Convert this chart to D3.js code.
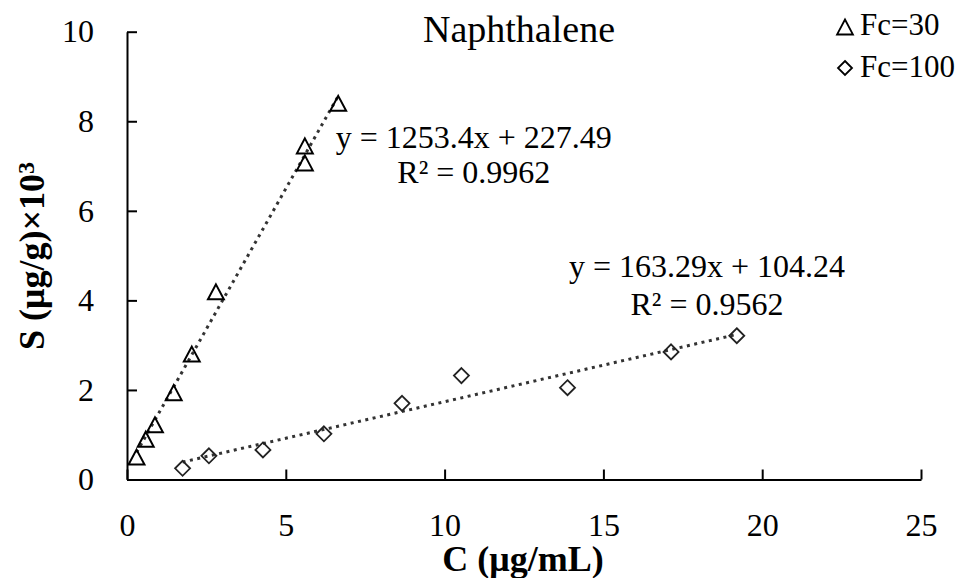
<!DOCTYPE html>
<html>
<head>
<meta charset="utf-8">
<script src="https://cdn.jsdelivr.net/npm/d3@7/dist/d3.min.js"></script>
<style>
	body { margin: 0; background: #fff; }
	text { font-family: "Liberation Serif", "Times New Roman", serif; fill: #000; }
	.axis path, .axis line { stroke: #000; stroke-width: 2; }
</style>
</head>
<body>
<div id="chart"></div>
<script>
////////////////////////////////////////////////////////////
//////////////////////// Data //////////////////////////////
////////////////////////////////////////////////////////////

//Fc=30 points (C in ug/mL, S in ug/g x 10^3)
var fc30C = [0.30, 0.59, 0.88, 1.47, 2.04, 2.80, 5.60, 5.60, 6.65],
	fc30S = [0.50, 0.90, 1.22, 1.94, 2.80, 4.19, 7.45, 7.07, 8.40];

//Fc=100 points
var fc100C = [1.75, 2.58, 4.28, 6.20, 8.66, 10.53, 13.87, 17.13, 19.20],
	fc100S = [0.25, 0.53, 0.66, 1.02, 1.70, 2.32, 2.05, 2.85, 3.21];

//Trendlines (in plotted units, S/1000)
var fitSlope = [1.2534, 0.16329],
	fitIntercept = [0.22749, 0.10424],
	eqLabels = ["y = 1253.4x + 227.49", "y = 163.29x + 104.24"],
	r2Labels = ["R\u00b2 = 0.9962", "R\u00b2 = 0.9562"];

var seriesNames = ["Fc=30", "Fc=100"],
	xTicks = [0, 5, 10, 15, 20, 25],
	yTicks = [0, 2, 4, 6, 8, 10];

////////////////////////////////////////////////////////////
//////////////////////// Set-up ////////////////////////////
////////////////////////////////////////////////////////////

var width = 962,
	height = 578,
	serif = "'Liberation Serif', 'Times New Roman', serif";

var x = d3.scaleLinear().domain([0, 25]).range([127, 921]);
var y = d3.scaleLinear().domain([0, 10]).range([479.5, 31.7]);

var svg = d3.select("#chart").append("svg")
	.attr("width", width)
	.attr("height", height);

//marker shapes, centred on their box
function trianglePath(s) {
	return "M0," + (-s*0.5) + "L" + (s*0.53) + "," + (s*0.5) + "L" + (-s*0.53) + "," + (s*0.5) + "Z";
}
function diamondPath(s) {
	return "M0," + (-s*0.5) + "L" + (s*0.5) + ",0L0," + (s*0.5) + "L" + (-s*0.5) + ",0Z";
}

////////////////////////////////////////////////////////////
//////////////////////// Axes //////////////////////////////
////////////////////////////////////////////////////////////

svg.append("g")
	.attr("class", "x axis")
	.attr("transform", "translate(0," + y(0) + ")")
	.call(d3.axisBottom(x).tickValues(xTicks).tickSizeInner(-10).tickSizeOuter(0).tickPadding(34));

svg.append("g")
	.attr("class", "y axis")
	.attr("transform", "translate(" + x(0) + ",0)")
	.call(d3.axisLeft(y).tickValues(yTicks).tickSizeInner(-10).tickSizeOuter(0).tickPadding(33));

svg.selectAll(".axis text")
	.style("font-family", serif)
	.style("font-size", "32px");

svg.selectAll(".axis .domain").attr("fill", "none");

//x label
svg.append("text")
	.attr("x", 523)
	.attr("y", 571)
	.attr("text-anchor", "middle")
	.style("font-size", "36px")
	.style("font-weight", "bold")
	.text("C (\u03bcg/mL)");

//y label
var yLabel = svg.append("text")
	.attr("transform", "translate(44,256) rotate(-90)")
	.attr("text-anchor", "middle")
	.style("font-size", "36px")
	.style("font-weight", "bold");
yLabel.append("tspan").text("S (\u03bcg/g)\u00d710");
yLabel.append("tspan").attr("dy", "-0.4em").style("font-size", "24px").text("3");

//title
svg.append("text")
	.attr("x", 519)
	.attr("y", 42)
	.attr("text-anchor", "middle")
	.style("font-size", "38px")
	.text("Naphthalene");

////////////////////////////////////////////////////////////
///////////////////// Trendlines ///////////////////////////
////////////////////////////////////////////////////////////

var ranges = [d3.extent(fc30C), d3.extent(fc100C)];

ranges.forEach(function(r, i) {
	svg.append("line")
		.attr("x1", x(r[0]))
		.attr("y1", y(fitSlope[i]*r[0] + fitIntercept[i]))
		.attr("x2", x(r[1]))
		.attr("y2", y(fitSlope[i]*r[1] + fitIntercept[i]))
		.style("stroke", "#333")
		.style("stroke-width", 3)
		.style("stroke-dasharray", "3,4.5");
});

////////////////////////////////////////////////////////////
////////////////////// Points //////////////////////////////
////////////////////////////////////////////////////////////

svg.selectAll(".tri")
	.data(fc30C)
	.enter().append("path")
	.attr("class", "tri")
	.attr("d", trianglePath(15))
	.attr("transform", function(d, i) { return "translate(" + x(d) + "," + y(fc30S[i]) + ")"; })
	.style("fill", "none")
	.style("stroke", "#000")
	.style("stroke-width", 2);

svg.selectAll(".dia")
	.data(fc100C)
	.enter().append("path")
	.attr("class", "dia")
	.attr("d", diamondPath(15))
	.attr("transform", function(d, i) { return "translate(" + x(d) + "," + y(fc100S[i]) + ")"; })
	.style("fill", "none")
	.style("stroke", "#222")
	.style("stroke-width", 1.8);

////////////////////////////////////////////////////////////
//////////////////// Equations /////////////////////////////
////////////////////////////////////////////////////////////

var eqPos = [{c: 10.92, s: 7.40, s2: 6.62}, {c: 18.26, s: 4.52, s2: 3.67}];

eqPos.forEach(function(p, i) {
	svg.append("text")
		.attr("x", x(p.c))
		.attr("y", y(p.s))
		.attr("text-anchor", "middle")
		.style("font-size", "32px")
		.text(eqLabels[i]);
	svg.append("text")
		.attr("x", x(p.c))
		.attr("y", y(p.s2))
		.attr("text-anchor", "middle")
		.style("font-size", "32px")
		.text(r2Labels[i]);
});

////////////////////////////////////////////////////////////
////////////////////// Legend //////////////////////////////
////////////////////////////////////////////////////////////

var legend = svg.selectAll(".legend")
	.data(seriesNames)
	.enter().append("g")
	.attr("class", "legend")
	.attr("transform", function(d, i) { return "translate(845," + (27 + i*41) + ")"; });

legend.append("path")
	.attr("d", function(d, i) { return i === 0 ? trianglePath(15) : diamondPath(14); })
	.style("fill", "none")
	.style("stroke", "#000")
	.style("stroke-width", 1.8);

legend.append("text")
	.attr("x", 15)
	.attr("y", function(d, i) { return i === 0 ? 8 : 9; })
	.style("font-size", "31px")
	.text(function(d) { return d; });
</script>
</body>
</html>
